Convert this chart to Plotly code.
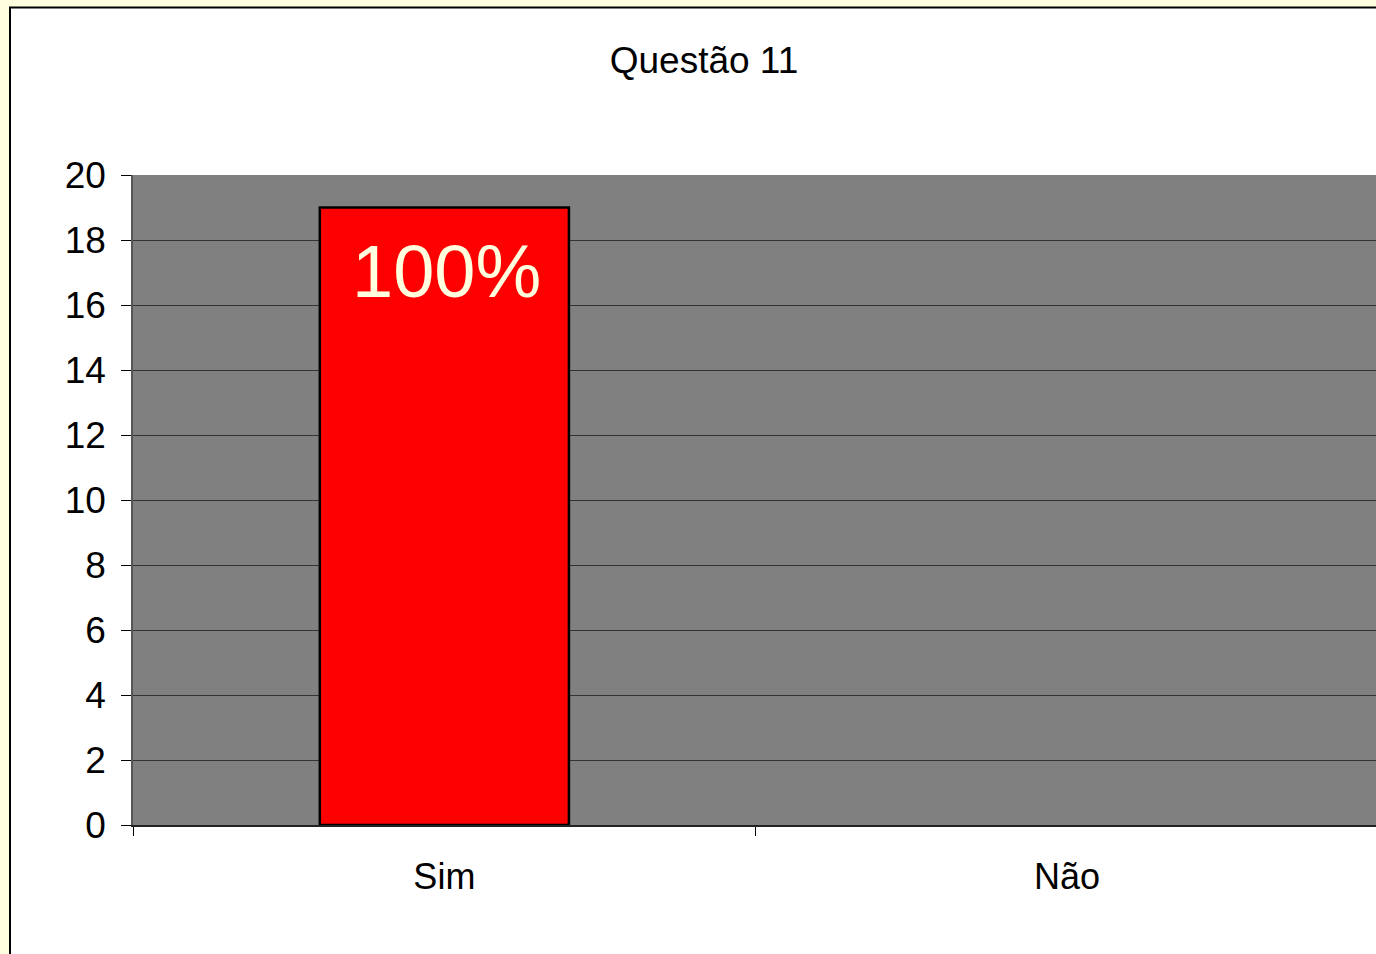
import plotly.graph_objects as go

categories = ["Sim", "Não"]
values = [19, 0]
bar_labels = ["100%", ""]
title_text = "Questão 11"
y_ticks = [0, 2, 4, 6, 8, 10, 12, 14, 16, 18, 20]

FONT = "Liberation Sans, Arial, sans-serif"
W, H = 1376, 954
ML, MR, MT, MB = 133, 0, 175, 129
PW = W - ML - MR
PH = H - MT - MB

fig = go.Figure()
fig.add_trace(go.Bar(
    x=categories, y=values, width=0.4,
    marker=dict(color="#FF0000", line=dict(color="black", width=[2.5, 0])),
    cliponaxis=False, hoverinfo="skip",
))
for c, v, t in zip(categories, values, bar_labels):
    if t:
        fig.add_annotation(x=c, y=v, text=t, showarrow=False, xanchor="center",
                           yanchor="middle", yshift=-64, xshift=2,
                           font=dict(family=FONT, size=74, color="#FFFFE0"))

# white chart frame (extends beyond page edges)
fig.add_shape(type="rect", xref="paper", yref="paper", layer="below",
              x0=(10 - ML) / PW, x1=1.2, y0=-0.5, y1=(MT + PH - 7.5) / PH,
              fillcolor="white", line=dict(color="black", width=2))
# grey plot area
fig.add_shape(type="rect", xref="x domain", yref="y domain", layer="below",
              x0=0, x1=1, y0=0, y1=1, fillcolor="#808080", line=dict(width=0))

fig.update_layout(
    width=W, height=H,
    margin=dict(l=ML, r=MR, t=MT, b=MB, pad=0),
    paper_bgcolor="#FFFFE0", plot_bgcolor="rgba(0,0,0,0)",
    showlegend=False,
    font=dict(family=FONT, size=36, color="black"),
    title=dict(text=title_text, x=704 / W, xanchor="center", y=1 - 60 / H, yanchor="middle",
               font=dict(family=FONT, size=37, color="black")),
    bargap=0.6,
)
fig.update_xaxes(
    type="category", range=[-0.5, 1.496], tickson="boundaries",
    ticks="outside", ticklen=9, tickcolor="black", tickwidth=1,
    showgrid=False, showline=True, linecolor="#222222", linewidth=2,
    tickfont=dict(family=FONT, size=36, color="black"), ticklabelstandoff=19,
    zeroline=False,
)
fig.update_yaxes(
    range=[0, 20], tickvals=y_ticks, ticks="outside", ticklen=10, tickcolor="black",
    tickwidth=1, showgrid=True, gridcolor="#333333", gridwidth=1,
    showline=True, linecolor="#555555", linewidth=1.5, zeroline=False,
    tickfont=dict(family=FONT, size=37, color="black"), ticklabelstandoff=8,
)

fig.write_html("out.html", config={"displayModeBar": False},
               post_script="document.body.style.margin='0';document.body.style.overflow='hidden';")
